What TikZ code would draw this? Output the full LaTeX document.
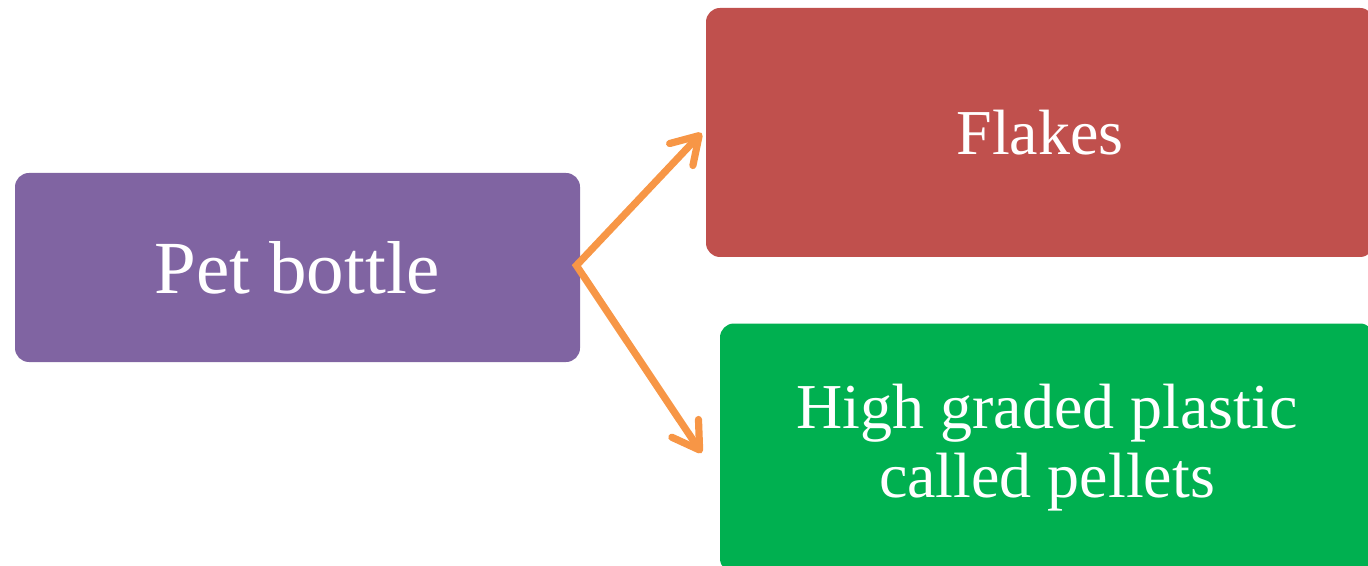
\documentclass[tikz,border=0pt]{standalone}
\usepackage{fontspec}
\setmainfont{Liberation Serif}
\usetikzlibrary{arrows.meta,calc}
\definecolor{cpurple}{HTML}{8064A2}
\definecolor{cred}{HTML}{C0504D}
\definecolor{cgreen}{HTML}{00B050}
\definecolor{corange}{HTML}{F79646}
\begin{document}
\begin{tikzpicture}[x=0.5pt,y=-0.5pt,
  box/.style={rounded corners=7pt, inner sep=0pt, text=white, align=center},
  flow/.style={draw=corange, line width=3.6pt, line join=miter,
    {Straight Barb[length=13pt,width=16pt,line cap=round,line join=round]}-{Straight Barb[length=13pt,width=16pt,line cap=round,line join=round]}}
]
\useasboundingbox (0,0) rectangle (1368,566);
\node[box, fill=cpurple, minimum width=282.5pt, minimum height=94.5pt,
  font=\fontsize{37.5}{40}\selectfont] (pet) at (297.5,267.5) {Pet bottle};
\node[box, fill=cred, minimum width=334pt, minimum height=124.5pt,
  font=\fontsize{32}{33.5}\selectfont] (flakes) at (1040,132.5) {Flakes};
\node[box, fill=cgreen, minimum width=327pt, minimum height=124.5pt,
  font=\fontsize{32}{34.5}\selectfont] (pellets) at (1047,448) {High graded plastic\\called pellets};
\coordinate (ta) at ($(flakes.west)+(-4,0.5)$);
\coordinate (tb) at ($(pellets.west)+(-18,5)$);
\coordinate (st) at ($(pet.east)+(-4,-2)$);
\draw[flow] (ta) -- (st) -- (tb);
\end{tikzpicture}
\end{document}
